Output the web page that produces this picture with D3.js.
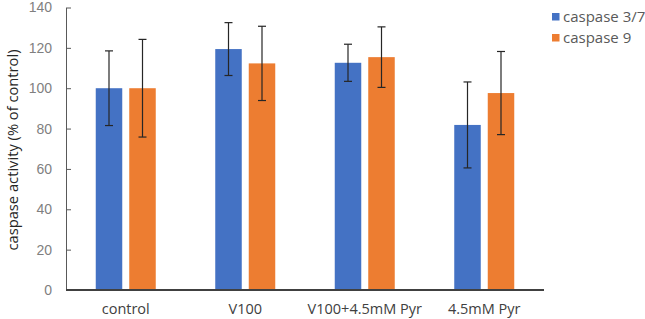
<!DOCTYPE html>
<html>
<head>
<script src="https://d3js.org/d3.v7.min.js"></script>
<style>
  body { margin: 0; background: #fff; }
  svg { font-family: "Open Sans", sans-serif; }
</style>
</head>
<body>
<svg id="chart" width="645" height="319"></svg>
<script>
// data
const categories = ["control", "V100", "V100+4.5mM Pyr", "4.5mM Pyr"];
const seriesNames = ["caspase 3/7", "caspase 9"];
const casp37 = [100, 119.4, 112.6, 81.8];
const casp37Err = [18.5, 13.1, 9.2, 21.3];
const casp9 = [100, 112.3, 115.4, 97.6];
const casp9Err = [24.2, 18.4, 15.0, 20.6];
const yTicks = [0, 20, 40, 60, 80, 100, 120, 140];
const colors = ["#4472C4", "#ED7D31"];

const svg = d3.select("#chart");
const plotL = 66, plotR = 544, plotT = 7.5, plotB = 290;

const x = d3.scaleBand().domain(categories).range([plotL, plotR]);
const y = d3.scaleLinear().domain([0, 140]).range([plotB, plotT]);
const barW = 26.5, gap = 7;

const series = [
  {name: seriesNames[0], vals: casp37, errs: casp37Err, color: colors[0]},
  {name: seriesNames[1], vals: casp9, errs: casp9Err, color: colors[1]}
];

// y axis
const yAxis = svg.append("g")
  .attr("transform", `translate(${plotL},0)`)
  .call(d3.axisLeft(y).tickValues(yTicks).tickSizeInner(-5).tickSizeOuter(0).tickPadding(14));
yAxis.select(".domain").attr("stroke", "#595959");
yAxis.selectAll(".tick line").attr("stroke", "#595959");
yAxis.selectAll(".tick text").attr("fill", "#7f7f7f").style("font-size", "14px");

// bars + error bars
series.forEach(function (s, si) {
  categories.forEach(function (c, i) {
    let cx = x(c) + x.bandwidth() / 2;
    let bx = si === 0 ? cx - gap / 2 - barW : cx + gap / 2;
    svg.append("rect")
      .attr("x", bx)
      .attr("y", y(s.vals[i]))
      .attr("width", barW)
      .attr("height", y(0) - y(s.vals[i]))
      .attr("fill", s.color);
    let mx = bx + barW / 2;
    let hi = y(s.vals[i] + s.errs[i]), lo = y(s.vals[i] - s.errs[i]);
    let eb = svg.append("g").attr("stroke", "#262626").attr("stroke-width", 1.2);
    eb.append("line").attr("x1", mx).attr("x2", mx).attr("y1", hi).attr("y2", lo);
    eb.append("line").attr("x1", mx - 4).attr("x2", mx + 4).attr("y1", hi).attr("y2", hi);
    eb.append("line").attr("x1", mx - 4).attr("x2", mx + 4).attr("y1", lo).attr("y2", lo);
  });
});

// x axis line
svg.append("line")
  .attr("x1", plotL).attr("x2", plotR)
  .attr("y1", y(0)).attr("y2", y(0))
  .attr("stroke", "#404040").attr("stroke-width", 2);

// category labels
svg.selectAll(".cat").data(categories).enter().append("text")
  .attr("x", d => x(d) + x.bandwidth() / 2)
  .attr("y", 314)
  .attr("text-anchor", "middle")
  .attr("fill", "#404040")
  .style("font-size", "14.5px")
  .text(d => d);

// y axis title
svg.append("text")
  .attr("transform", "translate(18,150) rotate(-90)")
  .attr("text-anchor", "middle")
  .attr("fill", "#262626")
  .attr("textLength", 201)
  .attr("lengthAdjust", "spacingAndGlyphs")
  .style("font-size", "15px")
  .text("caspase activity (% of control)");

// legend
series.forEach(function (s, i) {
  let ly = 16.5 + i * 21;
  svg.append("rect").attr("x", 552).attr("y", ly - 3.5).attr("width", 7.5).attr("height", 7.5).attr("fill", s.color);
  svg.append("text").attr("x", 563).attr("y", ly + 5.5)
    .attr("fill", "#595959").style("font-size", "15px").text(s.name);
});
</script>
</body>
</html>
